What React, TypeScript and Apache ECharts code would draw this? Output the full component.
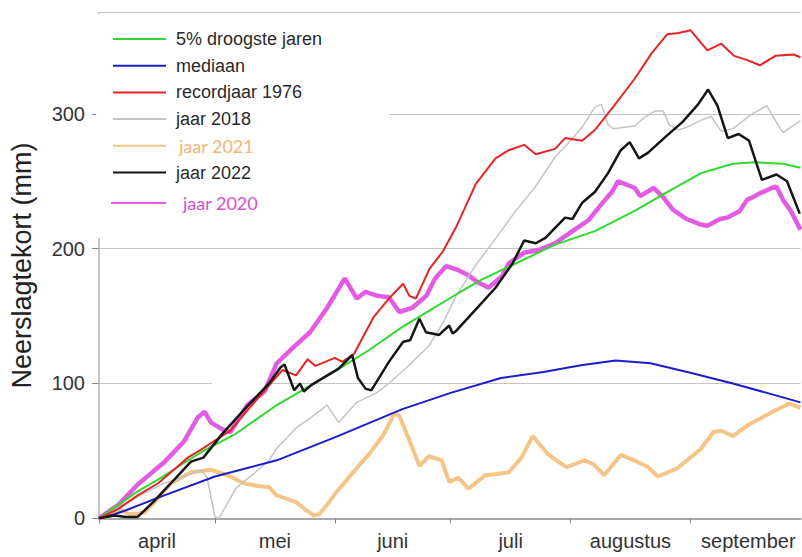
import React, { useEffect, useRef } from "react";
import * as echarts from "echarts";

// x = days since 1 April
const monthStarts = [0, 30, 61, 91, 122, 153];
const monthLabelDays = [15, 45.5, 76, 106.5, 137.5, 168];
const monthLabels = ["april", "mei", "juni", "juli", "augustus", "september"];

const greenDays = [0, 5, 10, 16, 22, 27, 35, 46, 55, 61, 70, 78.5, 86, 92.4, 99, 107.8, 118, 128.3, 138.6, 147, 155.8, 164, 170, 177, 181.5];
const greenVals = [0, 10, 20, 30, 41, 50, 62, 84, 99, 109, 125, 142, 155, 166, 177, 189, 203, 213, 228, 242, 256, 263, 264, 263, 260];

const blueDays = [0, 4, 7, 15, 30, 46, 61, 78.5, 91, 104, 115, 124.7, 133.7, 142.7, 153, 164, 172.8, 181.5];
const blueVals = [0, 3, 6, 15, 31, 43, 60, 81, 93, 104, 108.5, 113.5, 117, 115, 108, 100, 93, 86];

const redDays = [0, 5, 10, 15.3, 19, 23, 27, 30.7, 34, 38.4, 42, 45, 47.5, 51, 54, 56, 61, 63, 66, 71, 75, 78.7, 80.3, 82, 85.5, 89, 92.4, 97.5, 102.6, 106, 110, 113, 118, 120.6, 125, 128.3, 133, 138.6, 143, 147, 150, 153, 157.4, 161, 164.3, 167.6, 171, 175, 179.7, 181.5];
const redVals = [0, 7, 17, 26, 35, 45, 52, 59, 65, 80, 92, 102, 110, 106, 118, 113, 119, 116, 122, 149, 163, 174, 165, 163, 185, 198, 216, 248, 267, 273, 277, 270, 274, 282, 280, 288, 305, 326, 345, 359, 360, 362, 347, 352, 343, 340, 336, 343, 344, 342];

const grayDays = [0, 5, 10, 16, 22, 26.5, 28, 30, 31, 35.6, 40, 44, 46, 51, 55, 59, 62, 66.7, 71.8, 75, 80, 85.4, 89, 92.4, 97.5, 102, 107.8, 112.7, 118, 122, 125, 128.3, 130, 131.7, 133, 136, 138.6, 141, 143.8, 146, 147.5, 150, 152, 155.6, 158.4, 161, 164, 169, 172.8, 175, 177, 179.5, 181.5];
const grayVals = [0, 8, 16, 25, 31, 36, 30, 1, 0, 23, 33, 43, 52, 67, 75, 84, 71, 86, 93, 100, 113, 128, 145, 165, 188, 205, 228, 245, 268, 280, 290, 305, 307, 292, 289, 290, 291, 297, 302, 302, 292, 288, 290, 295, 298, 287, 289, 300, 306, 295, 286, 291, 295];

const orangeDays = [0, 3, 5.7, 8, 11.7, 15, 18.6, 23.7, 29, 34, 37.4, 41, 44, 46, 51, 53.6, 55.6, 57, 59, 61.3, 67.5, 70, 73.6, 76.5, 77.7, 80, 82.9, 85.4, 88.7, 89, 90.6, 93, 95.6, 100, 106, 109.3, 112.2, 116, 118.8, 121, 125.6, 128, 130.7, 135, 138.4, 142, 144.6, 149.6, 155.6, 159, 161, 164, 168.4, 174.3, 178.5, 181.5];
const orangeVals = [0, 2, 6, 3, 4, 14, 26, 34, 36, 31, 26, 24, 23, 17, 12, 6, 2, 3, 10, 19, 40, 48, 62, 78, 76, 60, 39, 46, 43, 40, 27, 30, 22, 32, 34, 45, 61, 48, 42, 38, 43, 40, 32, 47, 43, 38, 31, 37, 51, 64, 65, 61, 70, 79, 85, 82];

const blackDays = [0, 4, 7, 10, 14, 18.6, 23.8, 27, 32, 38, 44, 47, 48, 50.5, 52, 53, 55, 62, 65.5, 67, 69, 70.5, 75, 78.7, 80.5, 82.9, 84.6, 88, 90.6, 91.5, 92.4, 97.5, 102.6, 107, 110, 113, 115.5, 120.6, 122.5, 125, 128.3, 131.7, 135, 137.3, 139.7, 142, 147, 151, 155, 157.6, 160, 162.7, 165.5, 168.2, 171.5, 175.3, 178, 181.3];
const blackVals = [0, 2, 1, 1, 12, 26, 42, 45, 63, 82, 100, 112, 114, 95, 100, 94, 99, 111, 121, 104, 96, 95, 116, 131, 132, 148, 138, 136, 143, 137, 139, 155, 171, 189, 206, 204, 208, 223, 222, 234, 242, 256, 273, 279, 267, 271, 284, 294, 307, 318, 306, 282, 285, 280, 251, 255, 250, 226];

const pinkDays = [0, 5, 10, 17, 22, 25.6, 27.3, 29, 32.5, 34, 38.4, 42.8, 46, 50, 54.6, 59, 63.6, 66.7, 69, 72, 75, 77.7, 81, 84.7, 87, 89.8, 93, 95.7, 98, 100.8, 104.4, 106, 110, 113.7, 118, 122.5, 126.6, 130, 132.7, 134.3, 136, 138.6, 140, 143.5, 146, 148.5, 152, 155.6, 157.4, 160.7, 162.5, 165.8, 167.6, 169, 171, 174, 175.3, 177, 179, 181.5];
const pinkVals = [0, 10, 25, 42, 57, 75, 79, 71, 65, 64, 84, 94, 115, 126, 138, 156, 178, 163, 168, 165, 164, 153, 156, 165, 178, 187, 184, 180, 175, 171, 180, 189, 197, 199, 204, 213, 221, 233, 242, 250, 248, 245, 239, 245, 238, 229, 222, 218, 217, 222, 223, 228, 236, 238, 241, 245, 246, 236, 228, 214];

const seriesNames = ["5% droogste jaren", "mediaan", "recordjaar 1976", "jaar 2018", "jaar 2021", "jaar 2022", "jaar 2020"];

const pair = (d: number[], v: number[]) => d.map((x, i) => [x, v[i]]);

export default function App() {
  const ref = useRef<HTMLDivElement>(null);
  useEffect(() => {
    if (!ref.current) return;
    const chart = echarts.init(ref.current, null, { renderer: "svg" });
    const font = "'Liberation Sans', Arial, Helvetica, sans-serif";
    const axisGray = "#a8a8a8";
    const mk = (name: string, d: number[], v: number[], color: string, width: number, z: number) => ({
      name,
      type: "line",
      data: pair(d, v),
      symbol: "none",
      showSymbol: false,
      smooth: false,
      z,
      lineStyle: { color, width },
      itemStyle: { color },
    });
    const legendText = { fontFamily: font, fontSize: 18, color: "#2a2a2a", lineHeight: 18, padding: [0, 0, 0, 5] };
    chart.setOption({
      animation: false,
      backgroundColor: "#ffffff",
      grid: { left: 94.5, right: 1.5, top: 12.7, bottom: 38.7, containLabel: false },
      legend: [
        {
          orient: "vertical",
          left: 112,
          top: 30,
          padding: 0,
          itemWidth: 53,
          itemHeight: 14,
          itemGap: 8.7,
          itemStyle: { opacity: 0 },
          textStyle: legendText,
          data: [
            { name: seriesNames[0] },
            { name: seriesNames[1] },
            { name: seriesNames[2] },
            { name: seriesNames[3] },
            { name: seriesNames[4], textStyle: { color: "#f0b676", fontFamily: "Lato, 'Open Sans', sans-serif", fontSize: 18, padding: [0, 0, 0, 8] } },
            { name: seriesNames[5] },
          ],
          z: 5,
        },
        {
          orient: "vertical",
          left: 110,
          top: 194,
          padding: 0,
          itemWidth: 55,
          itemHeight: 14,
          itemStyle: { opacity: 0 },
          textStyle: { ...legendText, color: "#d54fd5", fontFamily: "Lato, 'Open Sans', sans-serif", padding: [0, 0, 0, 12] },
          data: [{ name: seriesNames[6] }],
          z: 5,
        },
      ],
      graphic: [
        { type: "rect", z: 1, shape: { x: 96, y: 14, width: 293, height: 224 }, style: { fill: "#ffffff" } },
        { type: "rect", z: 1, shape: { x: 212, y: 378, width: 60, height: 10 }, style: { fill: "#ffffff" } },
      ],
      xAxis: [
        {
          type: "value",
          min: 0,
          max: 181.5,
          position: "bottom",
          axisLine: { show: true, lineStyle: { color: axisGray, width: 2 } },
          axisTick: { show: true, customValues: monthStarts, length: 5, inside: false, lineStyle: { color: "#888", width: 1 } },
          axisLabel: {
            customValues: monthLabelDays,
            formatter: (v: number) => monthLabels[monthLabelDays.indexOf(v)] ?? "",
            fontFamily: font,
            fontSize: 20,
            color: "#333",
            margin: 13,
          },
          splitLine: { show: false },
        },
        {
          type: "value",
          min: 0,
          max: 181.5,
          position: "top",
          axisLine: { show: true, lineStyle: { color: axisGray, width: 2 } },
          axisTick: { show: true, customValues: monthStarts, length: 5, inside: true, lineStyle: { color: "#888", width: 1 } },
          axisLabel: { show: false },
          splitLine: { show: false },
        },
      ],
      yAxis: [
        {
          type: "value",
          min: 0,
          max: 375,
          interval: 100,
          position: "left",
          name: "Neerslagtekort (mm)",
          nameLocation: "middle",
          nameGap: 64,
          nameTextStyle: { fontFamily: font, fontSize: 27, color: "#222" },
          axisLine: { show: true, lineStyle: { color: axisGray, width: 1.5 } },
          axisTick: { show: true, length: 7, inside: false, lineStyle: { color: "#888", width: 1 } },
          axisLabel: { fontFamily: font, fontSize: 20, color: "#333", margin: 14, showMaxLabel: false },
          splitLine: { show: true, lineStyle: { color: "#c4c4c4", width: 1 } },
        },
        {
          type: "value",
          min: 0,
          max: 375,
          position: "right",
          axisLine: { show: true, lineStyle: { color: "#c8c8c8", width: 1.5 } },
          axisTick: { show: false },
          axisLabel: { show: false },
          splitLine: { show: false },
        },
      ],
      series: [
        mk(seriesNames[4], orangeDays, orangeVals, "#f5c487", 4, 2),
        mk(seriesNames[6], pinkDays, pinkVals, "#e35be3", 4.5, 3),
        mk(seriesNames[3], grayDays, grayVals, "#c4c4c4", 1.5, 4),
        mk(seriesNames[0], greenDays, greenVals, "#30d830", 2, 5),
        mk(seriesNames[1], blueDays, blueVals, "#1c1cc8", 2, 6),
        mk(seriesNames[2], redDays, redVals, "#e52424", 2, 7),
        mk(seriesNames[5], blackDays, blackVals, "#151515", 2.5, 8),
      ],
    });
    return () => chart.dispose();
  }, []);
  return <div ref={ref} style={{ position: "fixed", left: 0, top: 0, width: 802, height: 557 }} />;
}
